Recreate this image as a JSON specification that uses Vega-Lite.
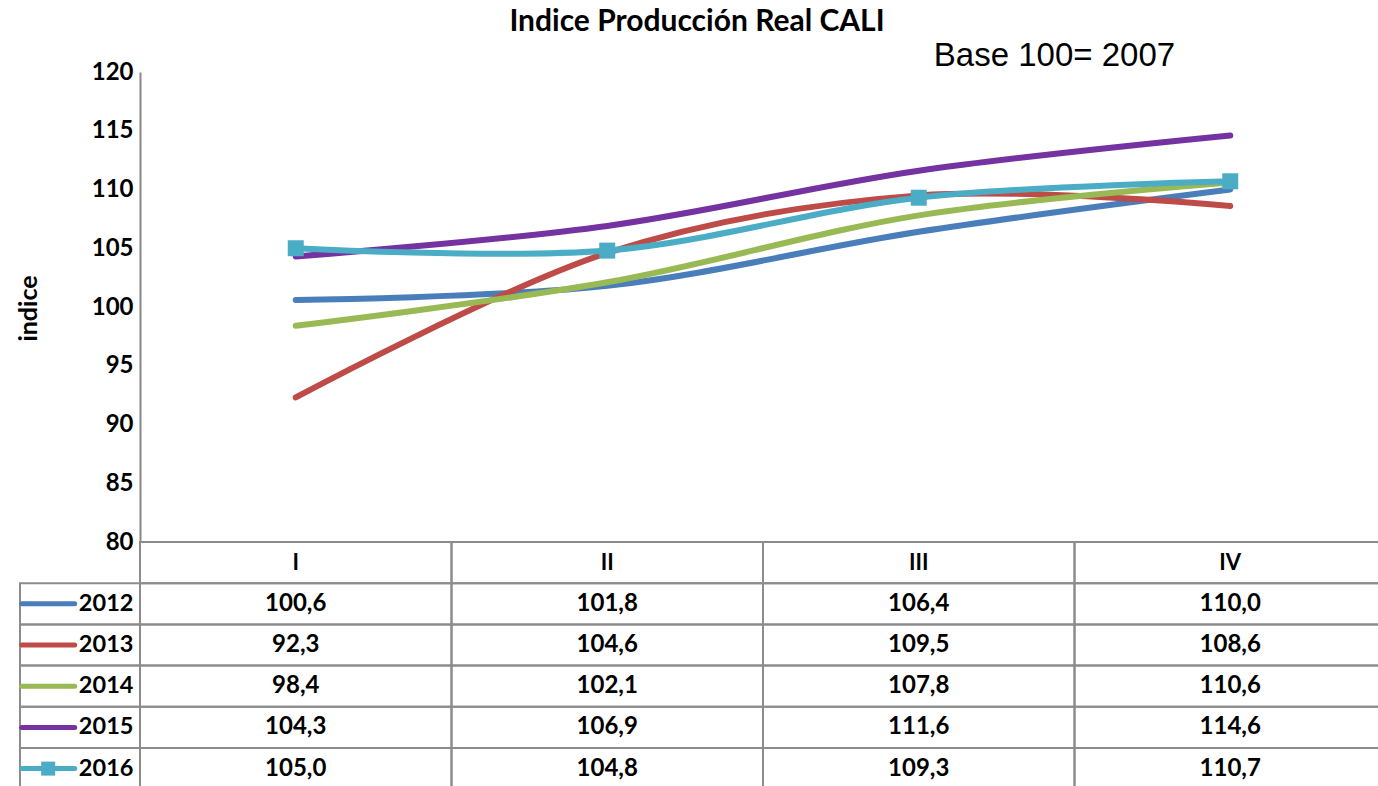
{
  "$schema": "https://vega.github.io/schema/vega-lite/v6.json",
  "width": 1238,
  "height": 714,
  "autosize": {"type": "none"},
  "padding": {"left": 140, "top": 72, "right": 0, "bottom": 0},
  "background": "white",
  "config": {
    "view": {"stroke": null},
    "font": "Lato",
    "locale": {"number": {"decimal": ",", "thousands": ".", "grouping": [3], "currency": ["$", ""]}}
  },
  "title": {
    "text": "Indice Producción Real CALI",
    "font": "Lato",
    "fontSize": 30,
    "fontWeight": "bold",
    "color": "black",
    "anchor": "middle",
    "frame": "group",
    "dx": -62,
    "offset": 2
  },
  "datasets": {
    "vals": [
      {"year": "2012", "q": "I", "v": 100.6},
      {"year": "2012", "q": "II", "v": 101.8},
      {"year": "2012", "q": "III", "v": 106.4},
      {"year": "2012", "q": "IV", "v": 110.0},
      {"year": "2013", "q": "I", "v": 92.3},
      {"year": "2013", "q": "II", "v": 104.6},
      {"year": "2013", "q": "III", "v": 109.5},
      {"year": "2013", "q": "IV", "v": 108.6},
      {"year": "2014", "q": "I", "v": 98.4},
      {"year": "2014", "q": "II", "v": 102.1},
      {"year": "2014", "q": "III", "v": 107.8},
      {"year": "2014", "q": "IV", "v": 110.6},
      {"year": "2015", "q": "I", "v": 104.3},
      {"year": "2015", "q": "II", "v": 106.9},
      {"year": "2015", "q": "III", "v": 111.6},
      {"year": "2015", "q": "IV", "v": 114.6},
      {"year": "2016", "q": "I", "v": 105.0},
      {"year": "2016", "q": "II", "v": 104.8},
      {"year": "2016", "q": "III", "v": 109.3},
      {"year": "2016", "q": "IV", "v": 110.7}
    ],
    "hdr": [
      {"q": "I", "row": "Trimestre"},
      {"q": "II", "row": "Trimestre"},
      {"q": "III", "row": "Trimestre"},
      {"q": "IV", "row": "Trimestre"}
    ],
    "years": [
      {"year": "2012"},
      {"year": "2013"},
      {"year": "2014"},
      {"year": "2015"},
      {"year": "2016"}
    ]
  },
  "resolve": {
    "scale": {"x": "independent", "y": "independent"},
    "axis": {"x": "independent", "y": "independent"}
  },
  "layer": [
    {
      "data": {"name": "vals"},
      "encoding": {
        "x": {
          "field": "q", "type": "ordinal", "bandPosition": 0.5,
          "scale": {"type": "band", "domain": ["I", "II", "III", "IV"], "range": [0, 1246], "paddingInner": 0, "paddingOuter": 0},
          "axis": null
        },
        "y": {
          "field": "v", "type": "quantitative",
          "scale": {"domain": [80, 120], "range": [470, 0], "nice": false, "zero": false},
          "axis": {
            "values": [80, 85, 90, 95, 100, 105, 110, 115, 120],
            "ticks": false, "grid": false,
            "domainColor": "#888888", "domainWidth": 2,
            "labelFont": "Lato", "labelFontSize": 24, "labelFontWeight": "bold", "labelColor": "black", "labelPadding": 7,
            "title": "indice", "titleFont": "Lato", "titleFontSize": 25, "titleFontWeight": "bold", "titleColor": "black",
            "titleX": -112, "titleY": 236, "titleAngle": -90, "titleAlign": "center", "titleBaseline": "middle"
          }
        },
        "color": {
          "field": "year", "type": "nominal",
          "scale": {"domain": ["2012", "2013", "2014", "2015", "2016"], "range": ["#4A7EBB", "#BE4B48", "#98B954", "#7433A0", "#4BACC6"]},
          "legend": null
        }
      },
      "layer": [
        {"mark": {"type": "line", "interpolate": "cardinal", "strokeWidth": 6, "strokeCap": "round", "strokeJoin": "round"}},
        {
          "transform": [{"filter": "datum.year === '2016'"}],
          "mark": {"type": "point", "shape": "square", "size": 256, "filled": true, "opacity": 1}
        }
      ]
    },
    {
      "encoding": {
        "x": {
          "field": "q", "type": "ordinal",
          "scale": {"type": "band", "domain": ["I", "II", "III", "IV"], "range": [0, 1246], "paddingInner": 0, "paddingOuter": 0},
          "axis": null
        }
      },
      "layer": [
        {
          "data": {"name": "vals"},
          "mark": {"type": "rect", "fill": "transparent", "stroke": "#8c8c8c", "strokeWidth": 2},
          "encoding": {
            "y": {"field": "year", "type": "ordinal", "scale": {"type": "band", "domain": ["Trimestre", "2012", "2013", "2014", "2015", "2016"], "range": [470, 717.2], "paddingInner": 0, "paddingOuter": 0}, "axis": null}
          }
        },
        {
          "data": {"name": "hdr"},
          "mark": {"type": "rect", "fill": "transparent", "stroke": "#8c8c8c", "strokeWidth": 2},
          "encoding": {
            "y": {"field": "row", "type": "ordinal", "scale": {"type": "band", "domain": ["Trimestre", "2012", "2013", "2014", "2015", "2016"], "range": [470, 717.2], "paddingInner": 0, "paddingOuter": 0}, "axis": null}
          }
        },
        {
          "data": {"name": "hdr"},
          "mark": {"type": "text", "font": "Lato", "fontSize": 22, "fontWeight": "bold", "color": "black", "baseline": "middle", "align": "center"},
          "encoding": {
            "y": {"field": "row", "type": "ordinal", "bandPosition": 0.5, "scale": {"type": "band", "domain": ["Trimestre", "2012", "2013", "2014", "2015", "2016"], "range": [470, 717.2], "paddingInner": 0, "paddingOuter": 0}, "axis": null},
            "text": {"field": "q"}
          }
        },
        {
          "data": {"name": "vals"},
          "mark": {"type": "text", "font": "Lato", "fontSize": 24, "fontWeight": "bold", "color": "black", "baseline": "middle", "align": "center"},
          "encoding": {
            "y": {"field": "year", "type": "ordinal", "bandPosition": 0.5, "scale": {"type": "band", "domain": ["Trimestre", "2012", "2013", "2014", "2015", "2016"], "range": [470, 717.2], "paddingInner": 0, "paddingOuter": 0}, "axis": null},
            "text": {"field": "v", "type": "quantitative", "format": ".1f"}
          }
        }
      ]
    },
    {
      "data": {"name": "years"},
      "encoding": {
        "x": {
          "datum": "L", "type": "nominal",
          "scale": {"type": "band", "domain": ["L"], "range": [-120, 0], "paddingInner": 0, "paddingOuter": 0},
          "axis": {
            "orient": "top", "labels": false, "ticks": false, "domain": false, "grid": false,
            "title": "Base 100= 2007", "titleFont": "Liberation Sans", "titleFontSize": 33, "titleFontWeight": "normal", "titleColor": "black",
            "titleX": 914, "titleY": -17, "titleAlign": "center", "titleBaseline": "middle", "titleAngle": 0
          }
        },
        "y": {"field": "year", "type": "ordinal", "scale": {"type": "band", "domain": ["Trimestre", "2012", "2013", "2014", "2015", "2016"], "range": [470, 717.2], "paddingInner": 0, "paddingOuter": 0}, "axis": null}
      },
      "layer": [
        {"mark": {"type": "rect", "fill": "transparent", "stroke": "#8c8c8c", "strokeWidth": 2}},
        {
          "mark": {"type": "point", "shape": "stroke", "size": 2809, "filled": false, "strokeWidth": 5, "strokeCap": "round", "opacity": 1},
          "encoding": {
            "x": {"datum": "L", "type": "nominal", "bandPosition": 0.235},
            "y": {"field": "year", "type": "ordinal", "bandPosition": 0.5},
            "color": {"field": "year", "type": "nominal", "legend": null}
          }
        },
        {
          "transform": [{"filter": "datum.year === '2016'"}],
          "mark": {"type": "point", "shape": "square", "size": 196, "filled": true, "opacity": 1},
          "encoding": {
            "x": {"datum": "L", "type": "nominal", "bandPosition": 0.235},
            "y": {"field": "year", "type": "ordinal", "bandPosition": 0.5},
            "color": {"field": "year", "type": "nominal", "legend": null}
          }
        },
        {
          "mark": {"type": "text", "font": "Lato", "fontSize": 23.5, "fontWeight": "bold", "color": "black", "baseline": "middle", "align": "right"},
          "encoding": {
            "x": {"datum": "L", "type": "nominal", "bandPosition": 0.945},
            "y": {"field": "year", "type": "ordinal", "bandPosition": 0.5},
            "text": {"field": "year"}
          }
        }
      ]
    }
  ]
}
